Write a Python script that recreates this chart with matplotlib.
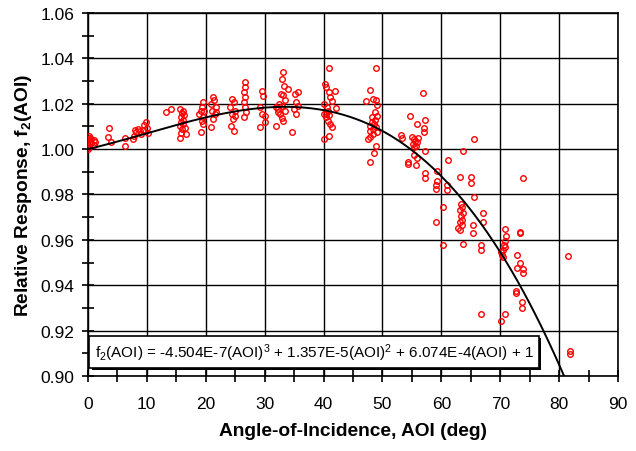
import numpy as np
import matplotlib
matplotlib.use("Agg")
import matplotlib.pyplot as plt
import matplotlib.patheffects as pe

plt.rcParams['font.family'] = ['Liberation Sans', 'DejaVu Sans']
plt.rcParams['mathtext.default'] = 'regular'

# measured data, (AOI in deg, relative response)
aoi = [
    0.1, 0.2, 0.1, 0.3, 0.2, 0.3, 0.2, 0.5, 0.6, 1.0, 1.2, 1.1,
    3.4, 3.6, 3.9, 6.3, 6.3,
    7.6, 7.9, 8.2, 8.5, 8.8, 9.1, 9.5, 9.8, 10.0, 10.2, 8.0, 9.3,
    13.3, 14.2,
    15.6, 15.8, 16.0, 15.7, 16.2, 15.9, 16.1, 15.8, 16.3, 16.0, 16.2, 16.5, 16.6, 15.7,
    18.8, 19.5, 19.3, 19.2, 19.6, 19.3, 19.5, 19.2, 19.8,
    21.2, 21.5, 20.9, 21.7, 21.1, 21.6, 21.3, 20.9, 21.8,
    24.5, 24.8, 24.2, 24.9, 24.4, 24.7, 24.3, 24.8, 25.0,
    26.6, 26.6, 26.5, 26.7, 26.5, 26.6, 26.8, 26.5,
    29.5, 29.8, 29.3, 29.6, 30.0, 29.3, 30.1,
    33.2, 33.0, 33.3, 34.0, 32.8, 33.1, 33.4, 32.5, 33.0, 32.3, 33.5, 32.2, 32.6, 33.2, 32.0, 32.9, 31.9,
    35.2, 35.7, 35.3, 35.0, 35.4, 34.6, 35.7,
    40.9, 40.2, 40.4, 40.9, 41.1, 41.4, 40.0, 40.6, 40.8, 40.0, 40.4, 40.8, 41.1, 41.4, 40.9, 40.0,
    41.9, 42.1, 40.5, 41.0,
    48.9, 47.9, 47.2, 48.4, 48.9, 49.1, 48.7, 49.1, 48.2, 48.7, 48.2, 48.6, 47.9, 48.9, 48.4, 47.9,
    49.1, 48.4, 47.9, 47.5, 48.9, 48.6, 47.9,
    54.7, 55.8, 57.2, 57.0, 57.0, 53.1, 53.3,
    55.0, 55.3, 55.6, 55.9, 55.2, 55.7, 56.0, 55.4,
    57.3, 55.3, 55.8, 54.3, 54.3, 55.7,
    56.9, 57.2, 57.2, 59.2, 59.2, 59.1, 59.1,
    61.1, 61.0, 61.0, 63.2, 63.6, 65.1, 65.1, 65.6, 65.5,
    60.3, 59.1, 60.3, 63.6,
    63.4, 63.5, 63.2, 63.6, 63.3, 63.5, 63.1, 63.5, 62.9, 63.2,
    65.4, 65.4, 67.1, 67.1, 66.7, 66.7,
    70.8, 70.9, 70.8, 70.6, 70.8, 70.5, 70.1, 70.3, 70.5,
    73.3, 73.4, 73.8, 72.8, 73.3, 72.9, 73.8, 73.8, 72.7, 72.7, 73.7, 73.7,
    66.7, 70.8, 70.1, 81.4, 81.8, 81.8,
]
response = [
    1.000, 1.001, 1.002, 1.003, 1.004, 1.005, 1.006, 1.0025, 1.0045, 1.002, 1.003, 1.004,
    1.0053, 1.0093, 1.003, 1.0049, 1.0013,
    1.0045, 1.006, 1.0075, 1.009, 1.008, 1.0065, 1.0105, 1.012, 1.0095, 1.007, 1.0085, 1.0085,
    1.0165, 1.0175,
    1.005, 1.007, 1.009, 1.010, 1.011, 1.012, 1.013, 1.014, 1.015, 1.016, 1.017, 1.0095, 1.0065, 1.0175,
    1.0155, 1.0208, 1.0186, 1.0168, 1.0142, 1.0124, 1.0111, 1.0075, 1.017,
    1.023, 1.0215, 1.020, 1.0186, 1.017, 1.0155, 1.0133, 1.0097, 1.0165,
    1.022, 1.0208, 1.0186, 1.0168, 1.0155, 1.0133, 1.0102, 1.008, 1.0145,
    1.0297, 1.0275, 1.0252, 1.023, 1.0208, 1.0186, 1.0164, 1.0142,
    1.0255, 1.0232, 1.0186, 1.0155, 1.0146, 1.0097, 1.012,
    1.034, 1.031, 1.028, 1.0265, 1.0245, 1.024, 1.0215, 1.020, 1.019, 1.0177, 1.0168, 1.0164, 1.0155, 1.0124, 1.010, 1.0135, 1.0185,
    1.0245, 1.0252, 1.0208, 1.0177, 1.0155, 1.0075, 1.019,
    1.0357, 1.0286, 1.0273, 1.025, 1.023, 1.0212, 1.0199, 1.0186, 1.0168, 1.0155, 1.0142, 1.0124, 1.0111, 1.0097, 1.0058, 1.0044,
    1.0255, 1.018, 1.0155, 1.015,
    1.0356, 1.0259, 1.021, 1.0222, 1.0215, 1.0193, 1.0163, 1.0148, 1.0141, 1.013, 1.0119, 1.0111, 1.0104, 1.0096, 1.0089, 1.0081,
    1.0077, 1.0067, 1.0052, 1.0044, 1.0015, 0.9981, 0.9945,
    1.0148, 1.0111, 1.0129, 1.0091, 1.0077, 1.0062, 1.0049,
    1.0055, 1.0045, 1.0038, 1.0030, 1.0022, 1.0015, 1.0048, 1.001,
    0.9993, 0.9972, 0.9962, 0.9945, 0.9936, 0.9929,
    1.0248, 0.9893, 0.9873, 0.9904, 0.9858, 0.9840, 0.9822,
    0.9951, 0.9840, 0.9820, 0.9876, 0.9993, 0.9876, 0.9850, 0.9788, 1.0044,
    0.9744, 0.9679, 0.9578, 0.9582,
    0.9760, 0.9745, 0.9733, 0.9718, 0.9704, 0.9689, 0.9677, 0.9667, 0.9652, 0.9644,
    0.9667, 0.9632, 0.9717, 0.9680, 0.9578, 0.9556,
    0.9649, 0.9618, 0.9596, 0.9578, 0.9569, 0.9556, 0.9547, 0.9534, 0.9525,
    0.9636, 0.9630, 0.9874, 0.9533, 0.9499, 0.9474, 0.9471, 0.9452, 0.9375, 0.9366, 0.9326, 0.9298,
    0.9274, 0.9274, 0.9244, 0.9529, 0.9111, 0.9098,
]

# fitted polynomial coefficients (highest order first)
coef = [-4.504e-7, 1.357e-5, 6.074e-4, 1.0]

fig = plt.figure(figsize=(6.36, 4.52), dpi=100)
ax = fig.add_axes([0.138, 0.166, 0.834, 0.803])

ax.plot(aoi, response, linestyle='none', marker='o', markersize=4,
        markerfacecolor='none', markeredgecolor='red', markeredgewidth=1.0, zorder=3)

xc = np.linspace(0, 81, 400)
ax.plot(xc, np.polyval(coef, xc), color='black', linewidth=1.4, zorder=4)

ax.set_xlim(0, 90)
ax.set_ylim(0.90, 1.06)
ax.set_xticks(np.arange(0, 91, 10))
ax.set_xticks(np.arange(0, 91, 5), minor=True)
ax.set_yticks(np.arange(0.90, 1.0601, 0.02))
ax.set_yticks(np.arange(0.90, 1.0601, 0.01), minor=True)
ax.set_yticklabels(['%.2f' % v for v in np.arange(0.90, 1.0601, 0.02)])
ax.grid(True, which='major', color='black', linewidth=1.0)
ax.set_axisbelow(True)
ax.tick_params(which='both', direction='inout', length=9, width=1.2, labelsize=12.5, colors='black')
ax.tick_params(axis='x', pad=10)
ax.tick_params(axis='y', pad=5)
for s in ax.spines.values():
    s.set_linewidth(1.2)
    s.set_color('black')

ax.set_xlabel('Angle-of-Incidence, AOI (deg)', fontsize=13.8, fontweight='bold', labelpad=8)
ax.set_ylabel('Relative Response, f$_2$(AOI)', fontsize=13.8, fontweight='bold', labelpad=5)

eq = 'f$_2$(AOI) = -4.504E-7(AOI)$^3$ + 1.357E-5(AOI)$^2$ + 6.074E-4(AOI) + 1'
t = ax.text(1.2, 0.9105, eq, fontsize=11, va='center', ha='left', zorder=5,
            bbox=dict(boxstyle='square,pad=0.35', facecolor='white', edgecolor='black', linewidth=1.2))
t.get_bbox_patch().set_path_effects([
    pe.SimplePatchShadow(offset=(1.5, -1.5), shadow_rgbFace='black', alpha=1.0),
    pe.Normal()])

fig.savefig('out.png', dpi=100)
